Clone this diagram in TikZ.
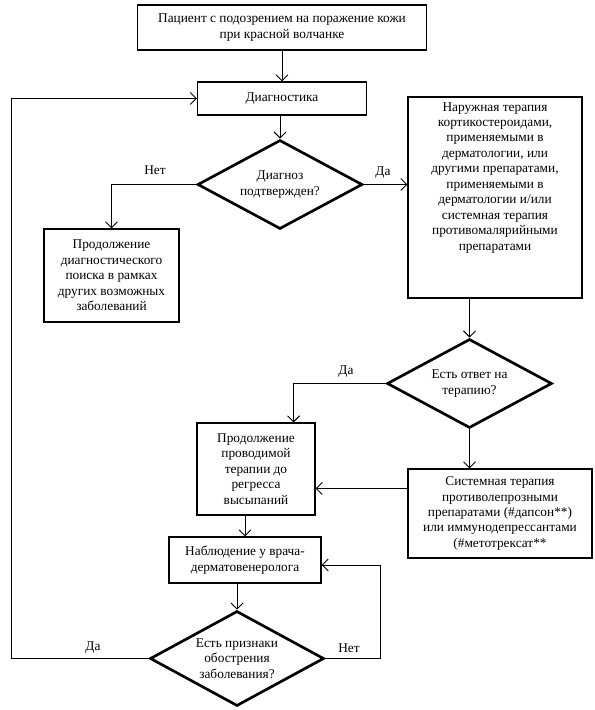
\documentclass[tikz,border=0pt]{standalone}
\usepackage{fontspec}
\setmainfont{Liberation Serif}
\usetikzlibrary{shapes.geometric,arrows.meta,calc}
\tikzset{
  box/.style={draw, line width=0.8pt, align=center, inner sep=2pt},
  dia/.style={draw, diamond, line width=2pt, aspect=#1, inner sep=0pt, align=center},
  arr/.style={line width=0.75pt, -{Straight Barb[length=4.5pt,width=9pt]}},
  lbl/.style={inner sep=1pt}
}
\begin{document}
\begin{tikzpicture}[x=0.75pt,y=-0.75pt, font=\fontsize{10}{11.6}\selectfont]
\useasboundingbox (0,0) rectangle (595,710);
\fill[white] (0,0) rectangle (595,710);

\node[box, minimum width=216.75pt, minimum height=33.75pt] (start) at (282,27.5)
  {Пациент с подозрением на поражение кожи\\при красной волчанке};
\node[box, minimum width=126.75pt, minimum height=24.75pt] (diag) at (282,98.5) {Диагностика};
\node[dia=1.85, minimum width=123.75pt, minimum height=66.75pt] (d1) at (280,184.5)
  {Диагноз\\подтвержден?};
\node[box, minimum width=101.25pt, minimum height=69.75pt] (search) at (111.5,275.5)
  {Продолжение\\диагностического\\поиска в рамках\\других возможных\\заболеваний};
\node[box, inner xsep=0pt, inner ysep=4pt] (ext) at (495,197.5)
  {\parbox[c][142.75pt][t]{130.5pt}{\centering Наружная терапия\\кортикостероидами,\\применяемыми в\\дерматологии, или\\другими препаратами,\\применяемыми в\\дерматологии и/или\\системная терапия\\противомалярийными\\препаратами}};
\node[dia=1.85, minimum width=123.75pt, minimum height=66.75pt] (d2) at (469.5,383.5)
  {Есть ответ на\\терапию?};
\node[box, minimum width=88.5pt, minimum height=69pt] (prod) at (256,469)
  {Продолжение\\проводимой\\терапии до\\регресса\\высыпаний};
\node[box, minimum width=138pt, minimum height=66.75pt] (sys) at (500,513.5)
  {Системная терапия\\противолепрозными\\препаратами (\#дапсон**)\\или иммунодепрессантами\\(\#метотрексат**};
\node[box, minimum width=114pt, minimum height=34.5pt] (obs) at (245,560)
  {Наблюдение у врача-\\дерматовенеролога};
\node[dia=1.83, minimum width=130.5pt, minimum height=71.25pt] (d3) at (237,658.5)
  {Есть признаки\\обострения\\заболевания?};

\coordinate (lp) at (11,659);
\coordinate (rp) at (380,565);
\coordinate (s1) at ($(sys.north west)+(0,20)$);
\coordinate (p1) at ($(prod.north east)+(-22,0)$);

\draw[arr] (start) -- (diag);
\draw[arr] (diag.south -| d1.north) -- (d1.north);
\draw[arr] (d1.west) -| (search.north);
\draw[arr] (d1.east) -- (d1.east -| ext.west);
\draw[arr] (d2.north |- ext.south) -- (d2.north);
\draw[arr] (d2.west) -| (p1);
\draw[arr] (d2.south) -- (d2.south |- sys.north);
\draw[arr] (s1) -- (s1 -| prod.east);
\draw[arr] (obs.north |- prod.south) -- (obs.north);
\draw[arr] (d3.north |- obs.south) -- (d3.north);
\draw[arr] (d3.west) -- (d3.west -| lp) |- (diag.west);
\draw[arr] (d3.east) -| (rp) -- (rp -| obs.east);

\node[lbl] (n1) at (155,170) {Нет};
\node[lbl] (y1) at (383,173) {Да};
\node[lbl] (y2) at (346,372) {Да};
\node[lbl] (y3) at (93,648) {Да};
\node[lbl] (n3) at (349,648) {Нет};
\end{tikzpicture}
\end{document}
